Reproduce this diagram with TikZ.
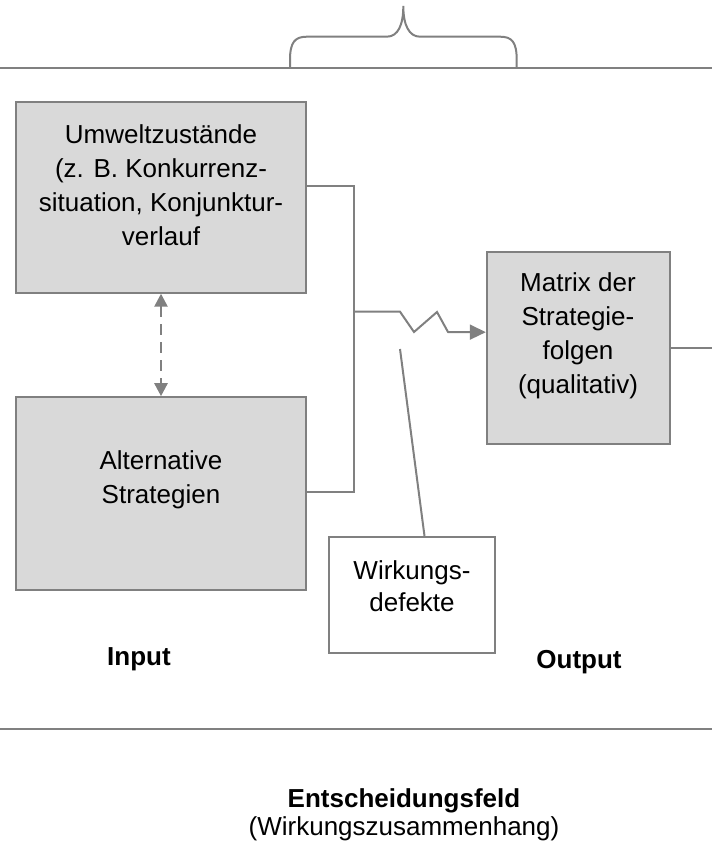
\documentclass[tikz,border=0pt]{standalone}
\usepackage{fontspec}
\setmainfont{Liberation Sans}
\usetikzlibrary{arrows.meta}
\definecolor{linegray}{HTML}{808080}
\definecolor{boxgray}{HTML}{D9D9D9}
\begin{document}
\begin{tikzpicture}[x=1pt,y=-1pt,
  box/.style={draw=linegray, line width=2pt, fill=boxgray, inner sep=0pt},
  wbox/.style={draw=linegray, line width=2pt, fill=white, inner sep=0pt},
  conn/.style={draw=linegray, line width=2pt},
  lbl/.style={font=\fontsize{26}{34}\selectfont, align=center, text=black, inner sep=0pt},
  blbl/.style={font=\fontsize{26}{34}\selectfont\bfseries, text=black, inner sep=0pt},
]
\useasboundingbox (0,0) rectangle (712,845);

% rules and brace
\coordinate (tl) at (0,67.7);
\coordinate (tr) at (712,67.7);
\draw[conn] (tl) -- (tr);
\draw[conn] (290,67.7) -- (290,60) .. controls (290,42) and (295,36.7) .. (307,36.7)
  -- (386.7,36.7) .. controls (398,36.7) and (403.3,25) .. (403.3,6)
  .. controls (403.3,25) and (409,36.7) .. (420,36.7)
  -- (500,36.7) .. controls (512,36.7) and (516.7,42) .. (516.7,60) -- (516.7,67.7);
\coordinate (bl) at (0,729);
\coordinate (br) at (712,729);
\draw[conn] (bl) -- (br);

% boxes
\node[box, minimum width=290pt, minimum height=191pt] (env) at (161,197.2) {};
\node[lbl] (envtxt) at (161,185) {Umweltzustände\\(z. B. Konkurrenz-\\situation, Konjunktur-\\verlauf};

\node[box, minimum width=290pt, minimum height=193pt] (alt) at (161,493.7) {};
\node[lbl] (alttxt) at (161,480) {Alternative\\Strategien};

\node[box, minimum width=183pt, minimum height=192pt] (mat) at (578.3,348.2) {};
\node[lbl] (mattxt) at (578,335.5) {Matrix der\\Strategie-\\folgen\\(qualitativ)};

\node[wbox, minimum width=166pt, minimum height=116pt] (def) at (411.5,595) {};
\node[lbl, font=\fontsize{26}{32}\selectfont] (deftxt) at (412,586) {Wirkungs-\\defekte};

% connectors
\coordinate (j1) at (354,186);
\coordinate (j2) at (354,492);
\coordinate (jm) at (354,311.7);
\coordinate (zz) at (400,349);
\coordinate (outend) at (712,350);

\draw[conn, line width=2.5pt, dash pattern=on 11pt off 7pt, {Triangle[length=13pt,width=13pt]}-{Triangle[length=13pt,width=13pt]}]
  (env.south) -- (alt.north);
\draw[conn] (env.east |- j1) -- (j1) -- (j2) -- (alt.east |- j2);
\draw[conn, -{Triangle[length=16pt,width=15pt]}] (jm) -- (400,311.7) -- (414,332) -- (437,312) -- (448,332) -- ([yshift=16pt]mat.west);
\draw[conn] (zz) -- ([xshift=13pt]def.north);
\draw[conn] (mat.east) -- (mat.east -| outend);

% labels
\node[blbl, anchor=base] (input) at (139,665) {Input};
\node[blbl, anchor=base] (output) at (579,668) {Output};
\node[blbl, anchor=base] (feld) at (404,807) {Entscheidungsfeld};
\node[lbl, anchor=base] (wz) at (404,835) {(Wirkungszusammenhang)};
\end{tikzpicture}
\end{document}
